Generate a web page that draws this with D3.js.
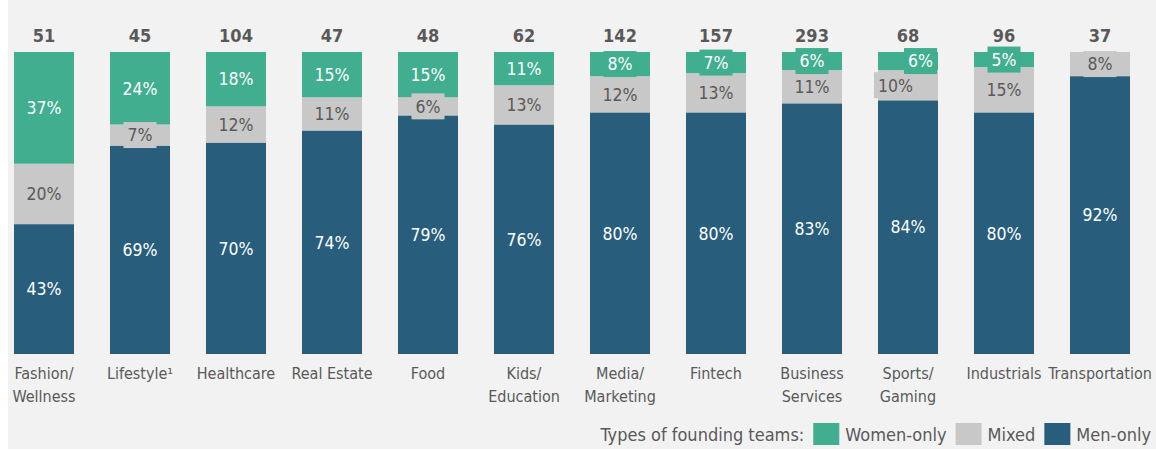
<!DOCTYPE html>
<html>
<head>
<meta charset="utf-8">
<script src="https://cdn.jsdelivr.net/npm/d3@7"></script>
<style>
  body { margin: 0; background: #fff; }
  text { font-family: "DejaVu Sans Condensed", "DejaVu Sans", sans-serif; }
</style>
</head>
<body>
<div id="chart"></div>
<script>
// categories (line breaks with \n) and team counts above the bars
const categories = ["Fashion/\nWellness", "Lifestyle\u00b9", "Healthcare", "Real Estate", "Food",
    "Kids/\nEducation", "Media/\nMarketing", "Fintech", "Business\nServices", "Sports/\nGaming",
    "Industrials", "Transportation"]
const totals = [51, 45, 104, 47, 48, 62, 142, 157, 293, 68, 96, 37]

// shares in percent, bottom to top
const menOnly   = [43, 69, 70, 74, 79, 76, 80, 80, 83, 84, 80, 92]
const mixed     = [20, 7, 12, 11, 6, 13, 12, 13, 11, 10, 15, 8]
const womenOnly = [37, 24, 18, 15, 15, 11, 8, 7, 6, 6, 5, 0]

const seriesNames = ["Men-only", "Mixed", "Women-only"]
const colors = { "Men-only": "#285d7c", "Mixed": "#c8c8c8", "Women-only": "#40ae8f" }
const labelColors = { "Men-only": "#ffffff", "Mixed": "#595959", "Women-only": "#ffffff" }
const textColor = "#595959"

// the Sports bar has its two small labels pushed to the sides
const labelAlign = { "Sports/\nGaming": { "Mixed": "start", "Women-only": "end" } }

const W = 1156, H = 451

const rows = categories.map((c, i) => ({
    category: c,
    "Men-only": menOnly[i],
    "Mixed": mixed[i],
    "Women-only": womenOnly[i],
    total: totals[i]
}))

const svg = d3.select("#chart").append("svg")
    .attr("width", W)
    .attr("height", H)

svg.append("rect")
    .attr("x", 8).attr("y", 0)
    .attr("width", W - 8).attr("height", 449)
    .attr("fill", "#f2f2f2")

const xScale = d3.scaleBand()
    .domain(categories)
    .range([-4, 1148])
    .paddingInner(0.375)
    .paddingOuter(0.1875)

const yScale = d3.scaleLinear()
    .domain([0, 100])
    .range([354, 52])

const stacked = d3.stack().keys(seriesNames)(rows)

const layers = svg.append("g").selectAll("g")
    .data(stacked)
    .join("g")
    .attr("fill", d => colors[d.key])

layers.selectAll("rect")
    .data(d => d.filter(s => s[1] - s[0] > 0))
    .join("rect")
    .attr("x", d => xScale(d.data.category))
    .attr("y", d => yScale(d[1]))
    .attr("width", xScale.bandwidth())
    .attr("height", d => yScale(d[0]) - yScale(d[1]))

// segment labels, small segments get a box in the segment colour
const labelGroup = svg.append("g")
stacked.forEach(layer => {
    layer.forEach(seg => {
        const v = seg[1] - seg[0]
        if (v <= 0) return
        const cat = seg.data.category
        const h = yScale(seg[0]) - yScale(seg[1])
        const cy = (yScale(seg[0]) + yScale(seg[1])) / 2
        const align = (labelAlign[cat] || {})[layer.key] || "middle"
        const left = xScale(cat), right = left + xScale.bandwidth()

        const g = labelGroup.append("g")
        const t = g.append("text")
            .attr("y", cy)
            .attr("dy", "0.36em")
            .attr("font-size", 17.5)
            .attr("fill", labelColors[layer.key])
            .text(v + "%")
        const tw = t.node().getComputedTextLength()
        let tx
        if (align === "start") tx = left + tw / 2
        else if (align === "end") tx = right - 5 - tw / 2
        else tx = (left + right) / 2
        t.attr("x", tx).attr("text-anchor", "middle")

        if (h < 26 || align !== "middle") {
            g.insert("rect", "text")
                .attr("x", tx - tw / 2 - 4)
                .attr("y", cy - 13)
                .attr("width", tw + 8)
                .attr("height", 26)
                .attr("fill", colors[layer.key])
        }
    })
})

// totals above bars
svg.append("g").selectAll("text")
    .data(rows)
    .join("text")
    .attr("x", d => xScale(d.category) + xScale.bandwidth() / 2)
    .attr("y", 42)
    .attr("text-anchor", "middle")
    .attr("font-size", 18)
    .attr("font-weight", "bold")
    .attr("fill", textColor)
    .text(d => d.total)

// category labels under bars
const catLabels = svg.append("g").selectAll("text")
    .data(categories)
    .join("text")
    .attr("x", d => xScale(d) + xScale.bandwidth() / 2)
    .attr("y", 379)
    .attr("text-anchor", "middle")
    .attr("font-size", 16)
    .attr("fill", textColor)

catLabels.selectAll("tspan")
    .data(d => d.split("\n").map(s => ({ s, x: xScale(d) + xScale.bandwidth() / 2 })))
    .join("tspan")
    .attr("x", d => d.x)
    .attr("dy", (d, i) => i === 0 ? 0 : 23)
    .text(d => d.s)

// legend, right aligned
const legend = svg.append("g")
const legendItems = [{ label: "Types of founding teams:", key: null }]
    .concat(["Women-only", "Mixed", "Men-only"].map(k => ({ label: k, key: k })))

let lx = 0
legendItems.forEach((item, i) => {
    if (item.key) {
        legend.append("rect")
            .attr("x", lx).attr("y", 423)
            .attr("width", 26).attr("height", 22)
            .attr("fill", colors[item.key])
        lx += 32
    }
    const t = legend.append("text")
        .attr("x", lx).attr("y", 441)
        .attr("font-size", 18)
        .attr("fill", textColor)
        .text(item.label)
    lx += t.node().getComputedTextLength() + 9
})
legend.attr("transform", `translate(${1160 - lx},0)`)
</script>
</body>
</html>
